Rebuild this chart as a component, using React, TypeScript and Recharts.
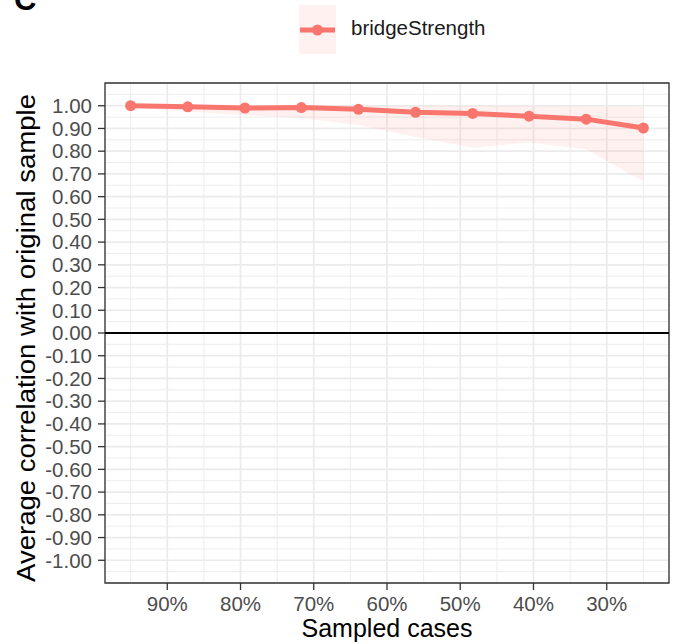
import {
  Area,
  CartesianGrid,
  ComposedChart,
  Line,
  ReferenceArea,
  ReferenceLine,
  XAxis,
  YAxis,
} from 'recharts';

const sampled = [0.95, 0.872, 0.794, 0.717, 0.639, 0.561, 0.483, 0.406, 0.328, 0.25];
const meanCor = [1.0, 0.995, 0.99, 0.992, 0.984, 0.971, 0.966, 0.954, 0.941, 0.902];
const lowerCor = [0.992, 0.975, 0.958, 0.946, 0.915, 0.862, 0.815, 0.838, 0.808, 0.667];
const upperCor = [1.0, 1.0, 1.0, 1.0, 1.0, 0.999, 0.999, 0.998, 0.997, 0.995];

const xTicks = [0.9, 0.8, 0.7, 0.6, 0.5, 0.4, 0.3];
const xMinor = [0.95, 0.85, 0.75, 0.65, 0.55, 0.45, 0.35, 0.25];
const yTicks = [
  -1.0, -0.9, -0.8, -0.7, -0.6, -0.5, -0.4, -0.3, -0.2, -0.1, 0.0,
  0.1, 0.2, 0.3, 0.4, 0.5, 0.6, 0.7, 0.8, 0.9, 1.0,
];
const yMinor = [
  -1.05, -0.95, -0.85, -0.75, -0.65, -0.55, -0.45, -0.35, -0.25, -0.15, -0.05,
  0.05, 0.15, 0.25, 0.35, 0.45, 0.55, 0.65, 0.75, 0.85, 0.95, 1.05,
];

const RED = '#F8766D';
const FONT = '"Liberation Sans", Arial, Helvetica, sans-serif';

const chartData = sampled.map((x, i) => ({
  x,
  value: meanCor[i],
  band: [lowerCor[i], upperCor[i]],
}));

const xDomain = [0.215, 0.985];
const yDomain = [-1.1, 1.1];

function XTitle({ viewBox }: any) {
  const { x, y, width, height } = viewBox;
  return (
    <text
      x={x + width / 2}
      y={y + height - 7}
      textAnchor="middle"
      fontSize={25}
      fontFamily={FONT}
      fill="#000"
    >
      Sampled cases
    </text>
  );
}

function YTitle({ viewBox }: any) {
  const { y, height } = viewBox;
  const cy = y + height / 2 + 5;
  return (
    <text
      transform={`translate(35, ${cy}) rotate(-90)`}
      textAnchor="middle"
      fontSize={26}
      textLength={488}
      lengthAdjust="spacingAndGlyphs"
      fontFamily={FONT}
      fill="#000"
    >
      Average correlation with original sample
    </text>
  );
}

function App() {
  return (
    <div style={{ position: 'absolute', left: 0, top: 0, width: 676, height: 644, background: '#fff' }}>
      <ComposedChart
        width={676}
        height={644}
        data={chartData}
        margin={{ top: 83, right: 7, bottom: 0, left: 0 }}
      >
        <CartesianGrid
          stroke="#ebebeb"
          strokeWidth={0.9}
          horizontalValues={yMinor}
          verticalValues={xMinor}
        />
        <CartesianGrid stroke="#ebebeb" strokeWidth={1.7} />
        <XAxis
          type="number"
          dataKey="x"
          domain={xDomain}
          ticks={xTicks}
          reversed
          allowDataOverflow
          height={61}
          axisLine={false}
          tickLine={{ stroke: '#333', strokeWidth: 1.3 }}
          tickSize={7}
          tickMargin={6}
          tick={{ fontSize: 20.5, fill: '#4d4d4d', fontFamily: FONT }}
          tickFormatter={(v: number) => `${Math.round(v * 100)}%`}
          label={<XTitle />}
        />
        <YAxis
          type="number"
          domain={yDomain}
          ticks={yTicks}
          allowDataOverflow
          width={105}
          axisLine={false}
          tickLine={{ stroke: '#333', strokeWidth: 1.3 }}
          tickSize={7}
          tickMargin={6}
          interval={0}
          tick={{ fontSize: 20.5, fill: '#4d4d4d', fontFamily: FONT }}
          tickFormatter={(v: number) => v.toFixed(2)}
          label={<YTitle />}
        />
        <ReferenceLine y={0} stroke="#000" strokeWidth={2} />
        <Area
          type="linear"
          dataKey="band"
          stroke="none"
          fill={RED}
          fillOpacity={0.1}
          isAnimationActive={false}
          activeDot={false}
        />
        <Line
          type="linear"
          dataKey="value"
          stroke={RED}
          strokeWidth={5}
          dot={{ r: 5.5, fill: RED, stroke: 'none' }}
          activeDot={false}
          isAnimationActive={false}
        />
        <ReferenceArea
          x1={xDomain[0]}
          x2={xDomain[1]}
          y1={yDomain[0]}
          y2={yDomain[1]}
          fill="none"
          stroke="#333"
          strokeWidth={1.3}
          ifOverflow="visible"
        />
      </ComposedChart>
      <svg
        width={676}
        height={60}
        style={{ position: 'absolute', left: 0, top: 0, pointerEvents: 'none' }}
      >
        <text x={14} y={10} fontSize={31} fontWeight="bold" fontFamily={FONT} fill="#000">
          C
        </text>
        <rect x={299} y={5} width={37} height={49} fill={RED} fillOpacity={0.1} />
        <line x1={300} x2={335} y1={30} y2={30} stroke={RED} strokeWidth={5} />
        <circle cx={317.5} cy={30} r={5.5} fill={RED} />
        <text x={351} y={35} fontSize={20.5} fontFamily={FONT} fill="#1a1a1a">
          bridgeStrength
        </text>
      </svg>
    </div>
  );
}

export default App;
